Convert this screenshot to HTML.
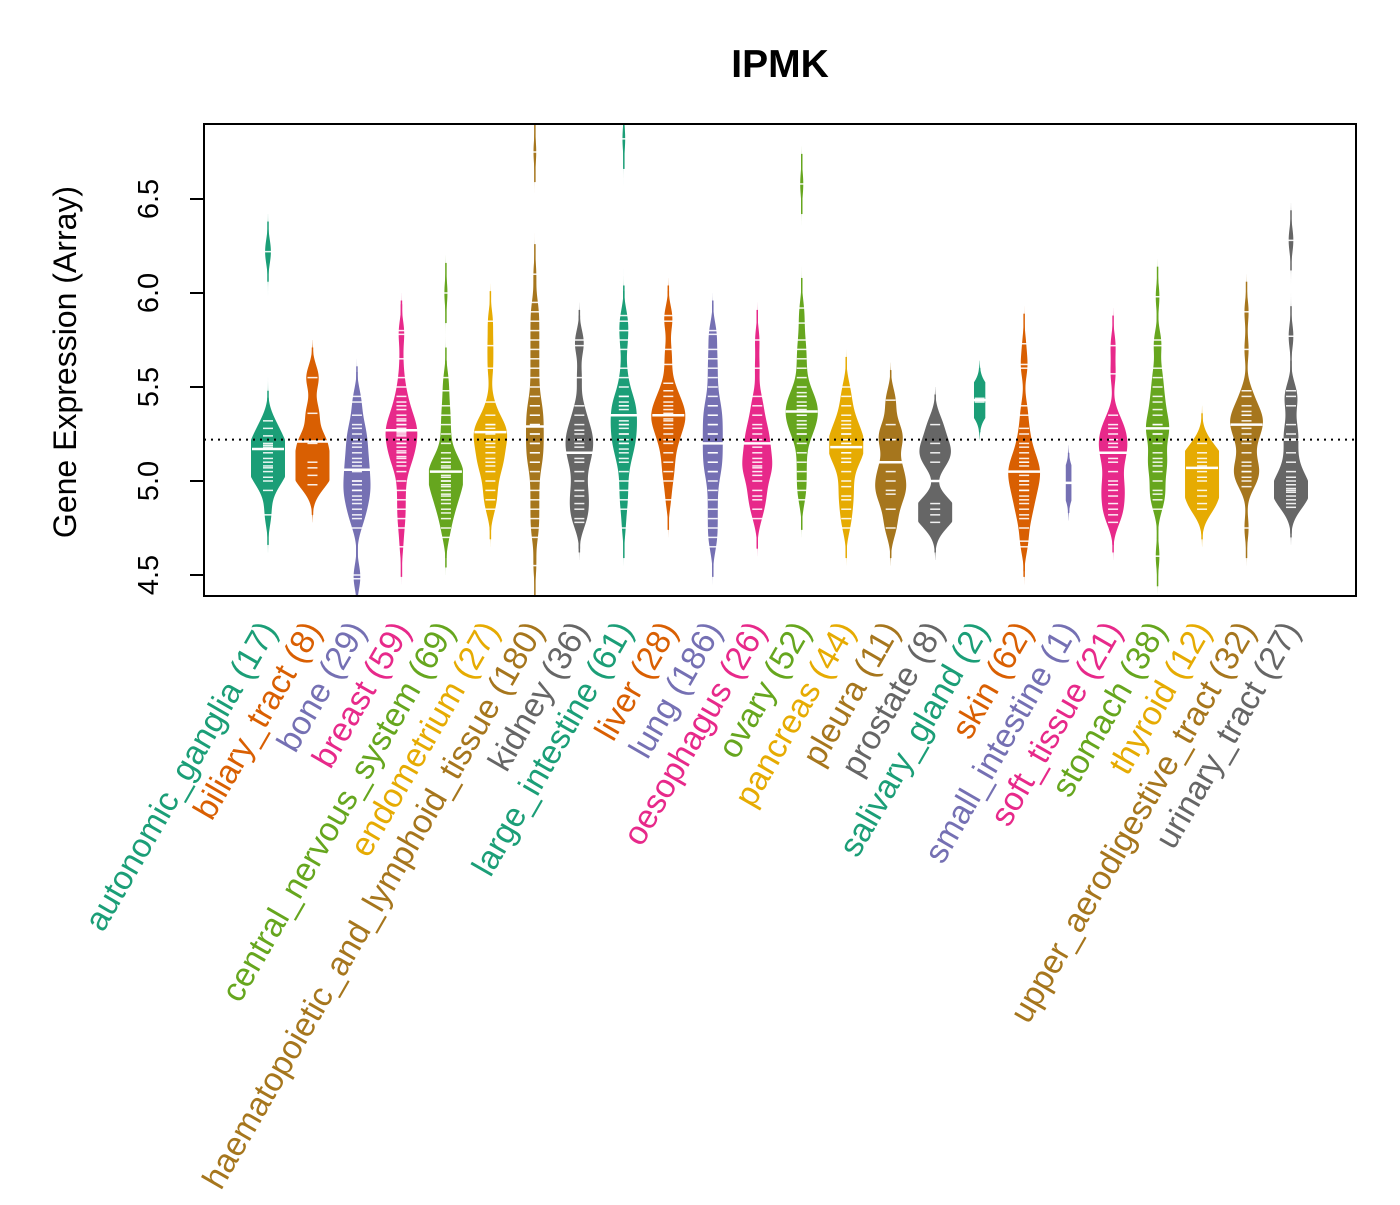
<!DOCTYPE html>
<html><head><meta charset="utf-8"><style>
body{margin:0;background:#fff}
svg text{font-family:"Liberation Sans",Arial,sans-serif}
</style></head><body>
<svg id="chart" width="1400" height="1200" xmlns="http://www.w3.org/2000/svg">
<rect width="1400" height="1200" fill="#fff"/>
<text x="780" y="77" text-anchor="middle" font-size="39" font-weight="bold">IPMK</text>
<text transform="translate(76,362) rotate(-90)" text-anchor="middle" font-size="32">Gene Expression (Array)</text>
<defs><clipPath id="pc"><rect x="204" y="124" width="1152" height="472"/></clipPath></defs>
<g id="beans" clip-path="url(#pc)"></g>
<g id="axes"></g>
<rect x="204" y="124" width="1152" height="472" fill="none" stroke="#000" stroke-width="2"/>
</svg>
<script>
const categories=["autonomic_ganglia","biliary_tract","bone","breast","central_nervous_system","endometrium","haematopoietic_and_lymphoid_tissue","kidney","large_intestine","liver","lung","oesophagus","ovary","pancreas","pleura","prostate","salivary_gland","skin","small_intestine","soft_tissue","stomach","thyroid","upper_aerodigestive_tract","urinary_tract"];
const counts=[17,8,29,59,69,27,180,36,61,28,186,26,52,44,11,8,2,62,1,21,38,12,32,27];
const medians=[5.17,5.21,5.06,5.27,5.05,5.26,5.29,5.15,5.35,5.35,5.2,5.2,5.37,5.18,5.1,5.0,5.43,5.05,4.99,5.15,5.28,5.07,5.3,5.22];
const samples=[
[6.22,5.32,5.28,5.19,5.1,5.07,5.05,5.02,5.0,4.95,4.82,5.15,5.18,5.12,5.2,5.24,5.08],
[5.55,5.36,5.21,5.2,5.07,5.03,4.98,5.1],
[5.45,5.42,5.35,5.3,5.25,5.2,5.18,5.15,5.12,5.1,5.08,5.06,5.05,5.0,4.98,4.95,4.92,4.9,4.88,4.85,4.82,4.8,5.28,5.22,5.0,4.95,4.75,4.48,4.5],
[5.8,5.78,5.65,5.55,5.5,5.45,5.42,5.4,5.38,5.35,5.33,5.3,5.3,5.28,5.27,5.25,5.22,5.2,5.18,5.15,5.12,5.1,5.08,5.05,5.0,4.95,4.9,4.85,4.8,4.75,4.65,5.32,5.26,5.24,5.2,5.16,5.13],
[6.0,5.55,5.48,5.4,5.35,5.3,5.25,5.2,5.15,5.12,5.1,5.08,5.05,5.05,5.03,5.0,4.98,4.95,4.93,4.9,4.88,4.85,4.83,4.8,4.75,4.7,5.0,5.02,4.97,4.92,5.07,5.1],
[5.85,5.72,5.6,5.42,5.35,5.3,5.28,5.26,5.22,5.2,5.15,5.12,5.08,5.05,5.0,4.95,4.9,4.85,5.3,5.25,5.18,5.1],
[6.75,6.1,5.95,5.9,5.85,5.8,5.75,5.7,5.65,5.6,5.55,5.5,5.45,5.4,5.35,5.3,5.25,5.2,5.15,5.1,5.05,5.0,4.95,4.9,4.85,4.8,4.75,4.7,4.55,5.3,5.35,5.25,5.2,5.4,5.1,5.15],
[5.75,5.72,5.55,5.4,5.35,5.3,5.27,5.25,5.22,5.2,5.18,5.15,5.12,5.1,5.05,5.0,4.95,4.92,4.88,4.85,4.8,4.78],
[6.82,5.88,5.85,5.8,5.75,5.7,5.6,5.55,5.5,5.45,5.42,5.4,5.38,5.35,5.32,5.3,5.28,5.25,5.22,5.2,5.17,5.15,5.12,5.1,5.05,5.0,4.95,4.9,4.85,4.75,5.35,5.3,5.25,5.2,5.4,5.45],
[5.88,5.85,5.7,5.62,5.52,5.48,5.45,5.42,5.4,5.38,5.35,5.33,5.3,5.28,5.25,5.22,5.2,5.15,5.1,5.05,5.0,4.9,5.36,5.32],
[5.8,5.78,5.7,5.65,5.6,5.55,5.5,5.45,5.4,5.35,5.3,5.25,5.2,5.15,5.1,5.05,5.0,4.95,4.9,4.85,4.8,4.75,4.7,4.65,5.2,5.25,5.15,5.3,5.1,5.35,5.05,5.4],
[5.75,5.6,5.45,5.4,5.35,5.3,5.28,5.25,5.2,5.15,5.12,5.1,5.07,5.05,5.03,5.0,4.95,4.92,4.9,4.85,4.8,5.18,5.22,5.08],
[6.58,5.92,5.84,5.75,5.7,5.65,5.6,5.55,5.5,5.47,5.45,5.42,5.4,5.38,5.37,5.35,5.32,5.3,5.28,5.25,5.2,5.15,5.1,5.05,5.0,4.95,4.9,5.4,5.35,5.3,5.45,5.25],
[5.5,5.45,5.4,5.35,5.32,5.3,5.28,5.25,5.22,5.2,5.18,5.15,5.12,5.1,5.05,5.0,4.97,4.92,4.9,4.85,4.75,4.8,5.18,5.2,5.15,5.25,5.1],
[5.43,5.22,5.22,5.1,5.0,4.95,4.93,4.85,4.75,5.3,5.05],
[5.3,5.2,5.15,5.1,4.88,4.85,4.82,4.78],
[5.44,5.42],
[5.73,5.62,5.6,5.4,5.35,5.28,5.25,5.2,5.18,5.15,5.12,5.1,5.08,5.05,5.05,5.03,5.0,4.98,4.95,4.92,4.9,4.88,4.85,4.82,4.8,4.75,4.68,4.65,5.05,5.0,5.1,4.95],
[4.99],
[5.72,5.57,5.35,5.3,5.28,5.25,5.2,5.18,5.15,5.12,5.05,5.0,4.98,4.95,4.92,4.88,4.85,4.82,4.78,5.1,5.22],
[5.98,5.75,5.72,5.6,5.55,5.5,5.45,5.42,5.38,5.35,5.3,5.28,5.25,5.2,5.15,5.1,5.05,5.0,4.95,4.93,4.9,4.85,4.6,5.3,5.25,5.12,5.08],
[5.2,5.15,5.12,5.08,5.05,5.0,4.95,4.92,4.88,4.85,5.1,5.02],
[5.9,5.7,5.48,5.45,5.4,5.37,5.35,5.32,5.3,5.28,5.25,5.22,5.2,5.15,5.1,5.05,5.02,5.0,4.97,4.75,5.3,5.35,5.05,5.08],
[6.28,5.77,5.48,5.45,5.4,5.3,5.25,5.22,5.15,5.1,5.05,5.0,4.98,4.96,4.94,4.92,4.9,4.88,4.86,4.95,5.02]
];
const overallMean=5.22;
const yTicks=[4.5,5.0,5.5,6.0,6.5];
const yTickLabels=["4.5","5.0","5.5","6.0","6.5"];
const palette=["#1B9E77","#D95F02","#7570B3","#E7298A","#66A61E","#E6AB02","#A6761D","#666666"];

const NS="http://www.w3.org/2000/svg";
const X0=268,DX=(1291-268)/23;
const xPos=i=>X0+i*DX;
const yPos=v=>481-(v-5)*188;
function mk(tag,attrs,parent){const e=document.createElementNS(NS,tag);for(const k in attrs)e.setAttribute(k,attrs[k]);parent.appendChild(e);return e;}
const beans=document.getElementById('beans'),axes=document.getElementById('axes'),svg=document.getElementById('chart');
const BW=0.065,K=8,CAP=17;
categories.forEach((c,i)=>{
  const col=palette[i%8],cx=xPos(i),s=samples[i];
  const g=mk('g',{},beans);
  
  
  const mn=Math.min(...s),mx=Math.max(...s);
  s.forEach(v=>{
    const t=mk('line',{x1:cx,x2:cx,y1:yPos(v-0.16),y2:yPos(v+0.16),stroke:col,'stroke-width':1.5},g);
    
    
  });
  const lo=mn-0.2,hi=mx+0.2;
  const f=Math.min(1,counts[i]/6);
  const right=[],left=[];
  for(let v=lo;v<=hi+1e-9;v+=0.005){
    let d=0;for(const x of s)d+=Math.exp(-0.5*((v-x)/BW)**2);
    d/=s.length*BW*Math.sqrt(2*Math.PI);
    const hw=Math.min(CAP,K*d)*f;
    right.push((cx+hw).toFixed(2)+','+yPos(v).toFixed(2));
    left.unshift((cx-hw).toFixed(2)+','+yPos(v).toFixed(2));
  }
  const poly=mk('polygon',{points:right.concat(left).join(' '),fill:col},g);
  
  
  s.forEach(v=>{
    const l=mk('line',{x1:cx-5,x2:cx+5,y1:yPos(v),y2:yPos(v),stroke:'#fff','stroke-width':1.5,'stroke-opacity':0.9},g);
    
    
  });
  const m=mk('line',{x1:cx-16,x2:cx+16,y1:yPos(medians[i]),y2:yPos(medians[i]),stroke:'#fff','stroke-width':2.5},g);
  
  
  const t=mk('text',{transform:`translate(${cx+10},630) rotate(-60)`,'text-anchor':'end','font-size':33.5,fill:col},svg);
  t.textContent=c+' ('+counts[i]+')';
  
  
});
const ov=mk('line',{x1:204,x2:1356,y1:yPos(overallMean),y2:yPos(overallMean),stroke:'#000','stroke-width':2,'stroke-dasharray':'2,5'},beans);


yTicks.forEach((v,k)=>{
  const y=yPos(v);
  const tk=mk('line',{x1:190,x2:204,y1:y,y2:y,stroke:'#000','stroke-width':2},axes);
  
  
  const tl=mk('text',{transform:`translate(158,${y}) rotate(-90)`,'text-anchor':'middle','font-size':29},axes);
  tl.textContent=yTickLabels[k];
  
  
});
const ax=mk('line',{x1:204,x2:204,y1:yPos(yTicks[0]),y2:yPos(yTicks[yTicks.length-1]),stroke:'#000','stroke-width':2},axes);


</script>
</body></html>
